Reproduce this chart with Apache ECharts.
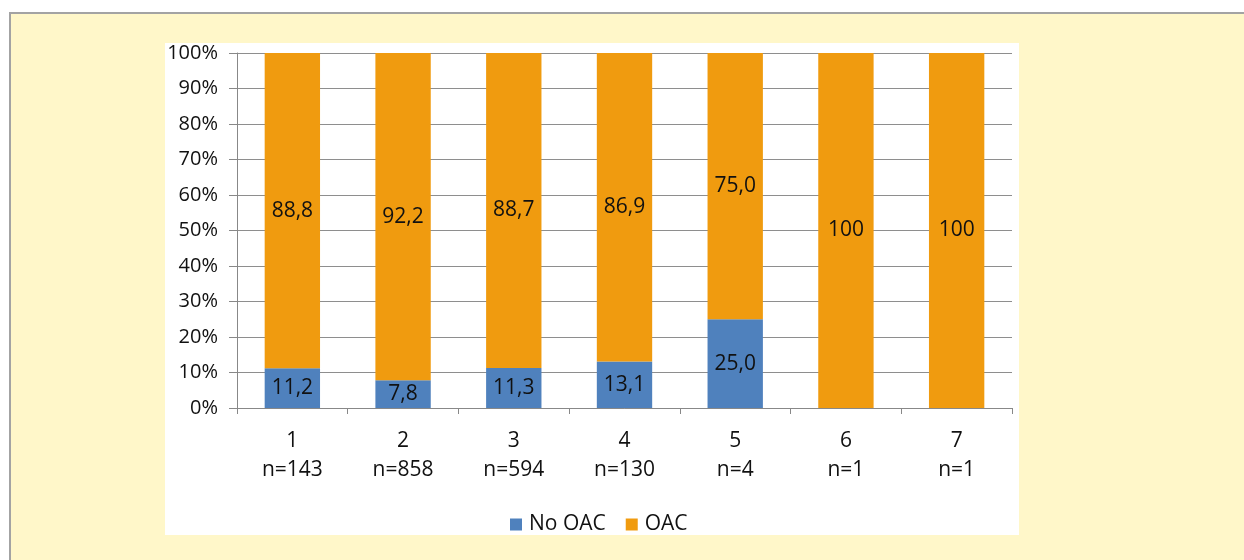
<!DOCTYPE html>
<html>
<head>
<meta charset="utf-8">
<script src="https://cdn.jsdelivr.net/npm/echarts@6/dist/echarts.min.js"></script>
<style>
  html, body { margin: 0; padding: 0; background: #ffffff; width: 1244px; height: 560px; overflow: hidden; }
  #frame { position: absolute; left: 9px; top: 12px; width: 1240px; height: 560px; background: #FFF7C9; border-left: 2px solid #A3A3A3; border-top: 2px solid #A3A3A3; }
  #inner { position: absolute; left: 165px; top: 43px; width: 854px; height: 492px; background: #ffffff; }
  #chart { position: absolute; left: 0; top: 0; width: 1244px; height: 560px; }
</style>
</head>
<body>
<div id="frame"></div>
<div id="inner"></div>
<div id="chart"></div>
<script>
const categories = ['1\nn=143', '2\nn=858', '3\nn=594', '4\nn=130', '5\nn=4', '6\nn=1', '7\nn=1'];
const noOAC = [11.2, 7.8, 11.3, 13.1, 25.0, 0, 0];
const oac = [88.8, 92.2, 88.7, 86.9, 75.0, 100, 100];
const seriesNames = ['No OAC', 'OAC'];
const yTicks = [0, 10, 20, 30, 40, 50, 60, 70, 80, 90, 100];

const fontFam = '"Open Sans", "DejaVu Sans", sans-serif';
const txt = '#111111';
function fmt(p) {
  const v = p.value;
  if (!v) return '';
  if (v === 100) return '100';
  return v.toFixed(1).replace('.', ',');
}
const chart = echarts.init(document.getElementById('chart'), null, { renderer: 'canvas' });
chart.setOption({
  backgroundColor: 'transparent',
  animation: false,
  grid: { left: 237, right: 232, top: 53, bottom: 152 },
  legend: {
    data: seriesNames,
    top: 509,
    left: 505,
    itemWidth: 12,
    itemHeight: 12,
    itemGap: 20,
    icon: 'rect',
    textStyle: { fontFamily: fontFam, fontSize: 21, color: txt, padding: [0, 0, 0, 2] }
  },
  xAxis: {
    type: 'category',
    data: categories,
    axisLine: { lineStyle: { color: '#888888', width: 1 } },
    axisTick: { show: true, length: 6, lineStyle: { color: '#888888' } },
    axisLabel: { fontFamily: fontFam, fontSize: 21, color: txt, lineHeight: 29, margin: 19 }
  },
  yAxis: {
    type: 'value',
    min: yTicks[0],
    max: yTicks[yTicks.length - 1],
    interval: 10,
    axisLine: { show: true, lineStyle: { color: '#888888' } },
    axisTick: { show: true, length: 8, lineStyle: { color: '#888888' } },
    splitLine: { lineStyle: { color: '#8e8e8e', width: 1 } },
    axisLabel: { formatter: '{value}%', fontFamily: fontFam, fontSize: 20, color: txt, margin: 19 }
  },
  series: [
    {
      name: seriesNames[0], type: 'bar', stack: 'total', data: noOAC, barWidth: '50%',
      itemStyle: { color: '#4F81BD' },
      label: { show: true, position: 'inside', formatter: fmt, fontFamily: fontFam, fontSize: 21, color: txt }
    },
    {
      name: seriesNames[1], type: 'bar', stack: 'total', data: oac, barWidth: '50%',
      itemStyle: { color: '#F09B0F' },
      label: { show: true, position: 'inside', formatter: fmt, fontFamily: fontFam, fontSize: 21, color: txt }
    }
  ]
});
</script>
</body>
</html>
